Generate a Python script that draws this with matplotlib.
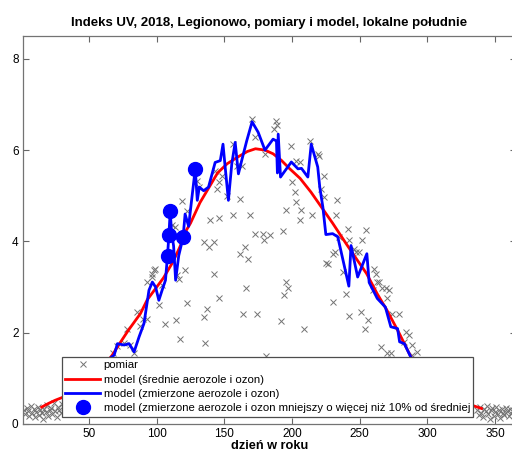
import matplotlib
matplotlib.use("Agg")
import matplotlib.pyplot as plt

plt.rcParams['font.family'] = ['Liberation Sans', 'DejaVu Sans']

# ---- data ----
meas_day = [2, 3, 4, 5, 6, 7, 8, 9, 10, 11, 12, 13, 14, 15, 16, 17, 18, 19, 20, 21, 22, 23, 24, 25, 26, 27, 28, 29, 30,
            68, 71, 76, 78.4, 80, 83.3, 85.7, 88, 90, 93, 93, 96.8, 96.8, 98, 99, 101.6, 104, 106.5, 111.4, 113.9, 114,
            115, 116.3, 117.5, 118.8, 121.2, 122.5, 122.5, 129.8, 131, 134.6, 134.7, 136, 137, 138.3, 139.6, 142, 142,
            143, 144.5, 145.7, 145.7, 146.2, 148, 151.8, 156.7, 156.7, 159, 161.6, 161.6, 162.8, 164, 165.3, 166, 167.7,
            169, 170.2, 172.6, 172.6, 174.3, 178.3, 179.2, 180, 181, 184, 187, 188.5, 189.2, 192.1, 193.4, 193.9, 195.4,
            195.8, 197, 199.5, 200.3, 202, 202.7, 203.2, 205.6, 205.6, 206.9, 209, 213, 215, 219, 220.3, 221.5, 224, 224,
            225.2, 226.4, 230, 230, 231.4, 232.6, 233.5, 235, 238, 240, 241.2, 241.9, 242.4, 246, 247.3, 249.7, 251, 252,
            253.9, 254.6, 256.5, 259.5, 260.7, 262, 263.1, 264.4, 265.7, 266.8, 269.3, 270.5, 270.5, 271.7, 273, 274, 279,
            282.7, 284, 286.4, 288.8, 288.8, 292.5,
            337, 338, 339, 340, 341, 342, 343, 344, 345, 346, 347, 348, 349, 350, 351, 352, 353, 354, 355, 356, 357, 358,
            359, 360, 361, 362, 363, 364, 365]
meas_uv = [0.30, 0.22, 0.35, 0.28, 0.18, 0.40, 0.25, 0.32, 0.15, 0.27, 0.38, 0.20, 0.30, 0.24, 0.12, 0.33, 0.26, 0.42,
           0.18, 0.30, 0.35, 0.22, 0.45, 0.28, 0.16, 0.38, 0.30, 0.25, 0.44,
           1.55, 1.70, 1.78, 2.09, 1.72, 1.55, 2.45, 2.15, 2.30, 2.31, 3.11, 3.22, 3.29, 3.37, 3.40, 2.60, 3.05, 2.20,
           4.35, 4.31, 2.27, 3.26, 3.18, 1.87, 4.88, 3.37, 4.66, 2.64, 5.33, 5.20, 3.99, 2.35, 1.78, 2.53, 3.88, 4.46,
           3.99, 3.29, 5.55, 5.15, 4.52, 5.30, 2.75, 5.44, 5.00, 6.13, 4.57, 5.66, 4.92, 3.73, 5.66, 2.40, 3.88, 2.97,
           3.62, 4.57, 6.68, 6.28, 4.17, 2.40, 4.17, 4.04, 5.92, 1.49, 4.15, 6.46, 6.64, 6.55, 2.26, 4.22, 2.82, 4.68,
           3.11, 2.97, 6.08, 5.30, 5.08, 4.86, 5.77, 5.73, 4.46, 4.68, 2.09, 6.19, 4.58, 5.92, 5.88, 5.15, 5.44, 4.97,
           3.53, 3.51, 3.73, 2.67, 3.77, 4.57, 4.91, 4.10, 3.33, 2.84, 4.28, 4.02, 2.36, 3.84, 3.77, 3.77, 2.45, 4.02,
           2.09, 4.25, 2.27, 2.93, 3.40, 3.29, 3.11, 3.11, 1.68, 2.97, 2.97, 2.75, 1.55, 2.93, 1.55, 2.42, 2.42,
           1.80, 2.02, 1.95, 1.73, 1.51, 1.58,
           0.30, 0.20, 0.38, 0.25, 0.15, 0.33, 0.28, 0.40, 0.22, 0.12, 0.30, 0.35, 0.18, 0.27, 0.38, 0.22, 0.30, 0.14,
           0.33, 0.25, 0.20, 0.36, 0.28, 0.18, 0.32, 0.24, 0.30, 0.20, 0.27]

mean_day = [15, 20, 25, 31, 40, 50, 60, 67, 73, 79, 88, 93, 100, 105, 112, 117, 122, 125, 132, 138, 145, 152, 160,
            167, 173, 180, 186, 192, 198, 206, 214, 222, 230, 240, 248, 255, 263, 270, 279, 288, 300, 310, 320, 330, 340]
mean_uv = [0.37, 0.45, 0.52, 0.59, 0.78, 1.00, 1.25, 1.50, 1.78, 2.05, 2.42, 2.72, 3.00, 3.20, 3.55, 3.87, 4.25, 4.40,
           4.85, 5.15, 5.50, 5.70, 5.85, 5.97, 6.03, 6.00, 5.92, 5.78, 5.60, 5.38, 5.08, 4.74, 4.40, 3.95, 3.60, 3.30,
           2.85, 2.50, 2.00, 1.46, 1.05, 0.78, 0.58, 0.44, 0.34]

aer_day = [66, 68.6, 71, 76, 79.6, 83.3, 87, 90.6, 94.3, 96.8, 99.2, 101.6, 104, 106.5, 108, 109, 110, 111, 112.5,
           114, 116.3, 118, 119.5, 121, 123.6, 125.6, 128.5, 130, 131.5, 134.7, 138.3, 143.2, 147, 149, 150.6, 153,
           155.5, 158, 160.4, 162.8, 166.5, 170.5, 175, 180, 186, 188.5, 189.2, 189.8, 191.5, 199.5, 204.4, 207, 211.7,
           214.2, 219, 220.5, 222.8, 225, 230, 233.8, 242, 243.6, 248.5, 255.3, 257, 263, 269, 273, 278, 279.5, 283,
           287.7, 290]
aer_uv = [1.45, 1.51, 1.76, 1.73, 1.76, 1.58, 1.91, 2.20, 2.93, 3.11, 3.00, 2.71, 2.93, 3.15, 3.69, 4.13, 4.66, 4.20,
          3.90, 3.15, 3.69, 3.90, 4.09, 4.60, 4.33, 4.85, 5.59, 4.90, 5.19, 5.11, 5.19, 5.73, 5.77, 6.13, 5.63, 4.90,
          5.70, 6.17, 5.48, 5.77, 6.20, 6.62, 6.39, 6.00, 6.24, 6.20, 5.50, 6.35, 5.41, 5.74, 5.59, 5.60, 5.41, 6.13,
          5.63, 5.19, 4.75, 4.15, 4.17, 4.10, 3.02, 3.91, 3.22, 3.73, 3.10, 2.75, 2.56, 2.13, 2.09, 1.80, 1.76, 1.47,
          1.35]

low_day = [108, 109, 110, 119.5, 128.5]
low_uv = [3.69, 4.13, 4.66, 4.09, 5.59]

labels = ['pomiar',
          'model (średnie aerozole i ozon)',
          'model (zmierzone aerozole i ozon)',
          'model (zmierzone aerozole i ozon mniejszy o więcej niż 10% od średniej']
title = 'Indeks UV, 2018, Legionowo, pomiary i model, lokalne południe'
xlabel = 'dzień w roku'
xticks = [50, 100, 150, 200, 250, 300, 350]
yticks = [0, 2, 4, 6, 8]

# ---- figure ----
W, H = 512, 453
fig = plt.figure(figsize=(W / 100, H / 100), dpi=100)
ax = fig.add_axes([22.7 / W, 1 - 424 / H, (516 - 22.7) / W, (424 - 36) / H])

h1, = ax.plot(meas_day, meas_uv, linestyle='none', marker='x', color='0.45', markersize=4.5, mew=0.7, zorder=2)
h2, = ax.plot(mean_day, mean_uv, color='#ff0000', lw=2, zorder=3)
h3, = ax.plot(aer_day, aer_uv, color='#0000ff', lw=2, zorder=4)
h4, = ax.plot(low_day, low_uv, linestyle='none', marker='o', color='#0000ff', markersize=10, zorder=5)

ax.set_xlim(1, 365.5)
ax.set_ylim(0, 8.5)
ax.set_xticks(xticks)
ax.set_yticks(yticks)
ax.tick_params(direction='in', length=4, width=0.8, color='0.4', labelsize=8.5, top=True, right=True, pad=3)
for s in ax.spines.values():
    s.set_color('0.45')
    s.set_linewidth(0.9)

ax.set_title(title, fontsize=9.5, fontweight='bold', pad=7)
ax.set_xlabel(xlabel, fontsize=9.2, fontweight='bold', labelpad=0)

leg = ax.legend([h1, h2, h3, h4], labels, loc='upper left',
                bbox_to_anchor=(62 / W, 1 - 357 / H), bbox_transform=fig.transFigure,
                borderaxespad=0, fontsize=8.2, fancybox=False, framealpha=1, edgecolor='0.3',
                handlelength=3.0, handletextpad=0.35, labelspacing=0.38, borderpad=0.3)
leg.get_frame().set_linewidth(0.9)
leg.set_zorder(10)

fig.savefig('out.png', dpi=100)
